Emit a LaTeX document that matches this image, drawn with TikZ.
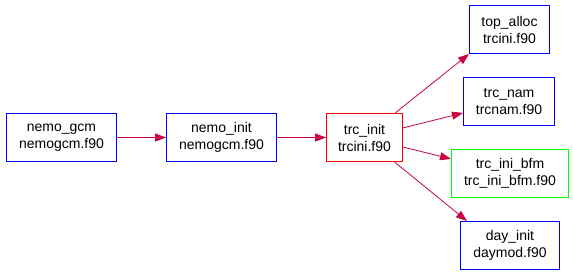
\documentclass[tikz,border=0pt]{standalone}
\usepackage{fontspec}
\setmainfont{Liberation Sans}
\usetikzlibrary{arrows.meta}
\definecolor{edgecol}{RGB}{204,0,68}
\definecolor{boxblue}{RGB}{0,0,255}
\definecolor{boxred}{RGB}{255,0,0}
\definecolor{boxgreen}{RGB}{0,255,0}
\begin{document}
\begin{tikzpicture}[x=1pt,y=-1pt,
  fn/.style={draw, line width=1pt, inner sep=0pt, align=center,
    font=\fontsize{14}{17}\selectfont, minimum height=48pt},
  callee/.style={fn, draw=boxblue},
  current/.style={fn, draw=boxred},
  extern/.style={fn, draw=boxgreen},
  call/.style={draw=edgecol, line width=0.8pt,
    -{Triangle[length=11pt,width=8pt,fill=edgecol]}}]
\useasboundingbox (0,0) rectangle (573,275);
\node[callee, minimum width=110pt] (gcm) at (61.5,137.5) {nemo\_gcm\\nemogcm.f90};
\node[callee, minimum width=110pt] (ninit) at (221.5,137.5) {nemo\_init\\nemogcm.f90};
\node[current, minimum width=76pt] (trc) at (364.5,137.5) {trc\_init\\trcini.f90};
\node[callee, minimum width=80pt] (alloc) at (509.5,29.5) {top\_alloc\\trcini.f90};
\node[callee, minimum width=91pt] (nam) at (509,101.5) {trc\_nam\\trcnam.f90};
\node[extern, minimum width=117pt] (bfm) at (510,173.5) {trc\_ini\_bfm\\trc\_ini\_bfm.f90};
\node[callee, minimum width=99pt] (day) at (510,245.5) {day\_init\\daymod.f90};
\draw[call] (gcm) -- (ninit);
\draw[call] (ninit) -- (trc);
\draw[call] (trc) -- (alloc.south west);
\draw[call] (trc) -- (nam);
\draw[call] (trc) -- (bfm);
\draw[call] (trc) -- ([xshift=7pt]day.north west);
\end{tikzpicture}
\end{document}
